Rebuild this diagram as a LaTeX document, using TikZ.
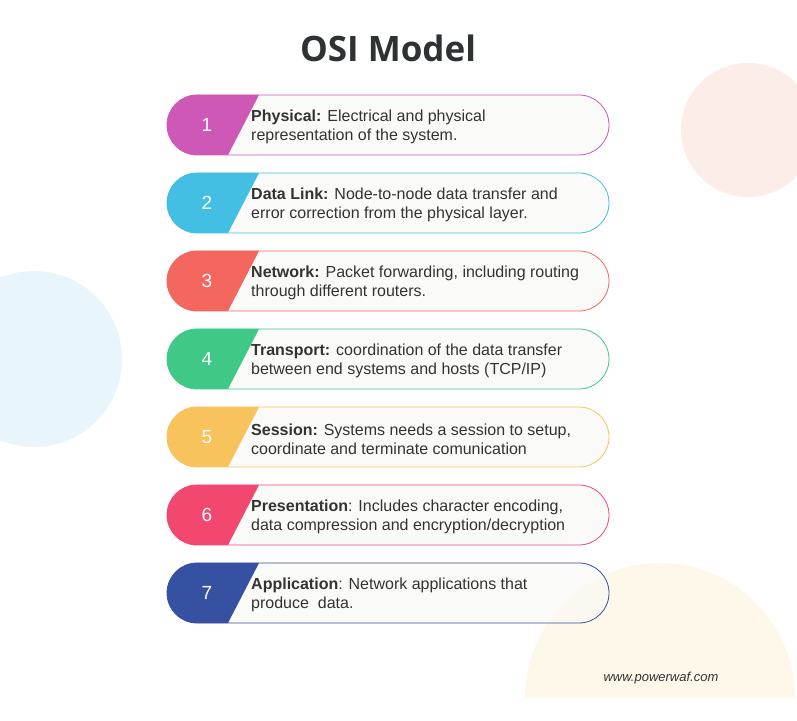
\documentclass[tikz,border=0pt]{standalone}
\usepackage{fontspec}
\setmainfont{Liberation Sans}
\newfontfamily\titlefont{Open Sans}
\usepackage{tikz}
\definecolor{osipurple}{HTML}{CD58B5}
\definecolor{osicyan}{HTML}{42BFE2}
\definecolor{osicoral}{HTML}{F3675F}
\definecolor{osigreen}{HTML}{40C887}
\definecolor{osiyellow}{HTML}{F8C25C}
\definecolor{osipink}{HTML}{F2476F}
\definecolor{osiblue}{HTML}{3650A2}
\definecolor{textgray}{HTML}{333333}
\definecolor{titlegray}{HTML}{2F3235}
\definecolor{barfill}{HTML}{F8F8F4}
\definecolor{blobpink}{HTML}{FDEDE9}
\definecolor{blobblue}{HTML}{E8F6FB}
\definecolor{blobcream}{HTML}{FDF8EA}

\begin{document}
\begin{tikzpicture}[x=1pt, y=1pt,
  bar/.style={fill=barfill, fill opacity=0.6, line width=0.8pt, rounded corners=30pt},
  num/.style={text=white, font=\fontsize{19}{19}\selectfont},
  desc/.style={anchor=west, align=left, inner sep=0pt, text=textgray, font=\fontsize{16}{19}\selectfont}]
  % Pozadí
  \fill[white] (0,0) rectangle (797,720);
  \useasboundingbox (0,0) rectangle (797,720);
  \fill[blobpink] (748,590) circle[radius=67];
  \fill[blobblue] (34,361) circle[radius=88];
  \fill[blobcream] (525,22) arc[start angle=180, end angle=0, radius=135] -- cycle;

  % Nadpis
  \node[font=\titlefont\bfseries\fontsize{35}{40}\selectfont, text=titlegray, anchor=base] (title) at (388,658) {OSI Model};

  % Vrstva 1
  \draw[bar, draw=osipurple] (167,565) rectangle (609,625);
  \fill[osipurple] (259,625) -- (197,625) arc[start angle=90, end angle=270, radius=30] -- (228,565) -- cycle;
  \node[num] (num1) at (207,595) {1};
  \node[desc] (layer1) at (251,593) {\textbf{Physical:} Electrical and physical\\representation of the system.};

  % Vrstva 2
  \draw[bar, draw=osicyan] (167,487) rectangle (609,547);
  \fill[osicyan] (259,547) -- (197,547) arc[start angle=90, end angle=270, radius=30] -- (228,487) -- cycle;
  \node[num] (num2) at (207,517) {2};
  \node[desc] (layer2) at (251,515) {\textbf{Data Link:} Node-to-node data transfer and\\error correction from the physical layer.};

  % Vrstva 3
  \draw[bar, draw=osicoral] (167,409) rectangle (609,469);
  \fill[osicoral] (259,469) -- (197,469) arc[start angle=90, end angle=270, radius=30] -- (228,409) -- cycle;
  \node[num] (num3) at (207,439) {3};
  \node[desc] (layer3) at (251,437) {\textbf{Network:} Packet forwarding, including routing\\through different routers.};

  % Vrstva 4
  \draw[bar, draw=osigreen] (167,331) rectangle (609,391);
  \fill[osigreen] (259,391) -- (197,391) arc[start angle=90, end angle=270, radius=30] -- (228,331) -- cycle;
  \node[num] (num4) at (207,361) {4};
  \node[desc] (layer4) at (251,359) {\textbf{Transport:} coordination of the data transfer\\between end systems and hosts (TCP/IP)};

  % Vrstva 5
  \draw[bar, draw=osiyellow] (167,253) rectangle (609,313);
  \fill[osiyellow] (259,313) -- (197,313) arc[start angle=90, end angle=270, radius=30] -- (228,253) -- cycle;
  \node[num] (num5) at (207,283) {5};
  \node[desc] (layer5) at (251,281) {\textbf{Session:} Systems needs a session to setup,\\coordinate and terminate comunication};

  % Vrstva 6
  \draw[bar, draw=osipink] (167,175) rectangle (609,235);
  \fill[osipink] (259,235) -- (197,235) arc[start angle=90, end angle=270, radius=30] -- (228,175) -- cycle;
  \node[num] (num6) at (207,205) {6};
  \node[desc] (layer6) at (251,203) {\textbf{Presentation}: Includes character encoding,\\data compression and encryption/decryption};

  % Vrstva 7
  \draw[bar, draw=osiblue] (167,97) rectangle (609,157);
  \fill[osiblue] (259,157) -- (197,157) arc[start angle=90, end angle=270, radius=30] -- (228,97) -- cycle;
  \node[num] (num7) at (207,127) {7};
  \node[desc] (layer7) at (251,125) {\textbf{Application}: Network applications that\\produce\ \ data.};

  % Web
  \node[font=\itshape\fontsize{13}{15}\selectfont, text=textgray, anchor=west] (web) at (600,42) {www.powerwaf.com};
\end{tikzpicture}
\end{document}
